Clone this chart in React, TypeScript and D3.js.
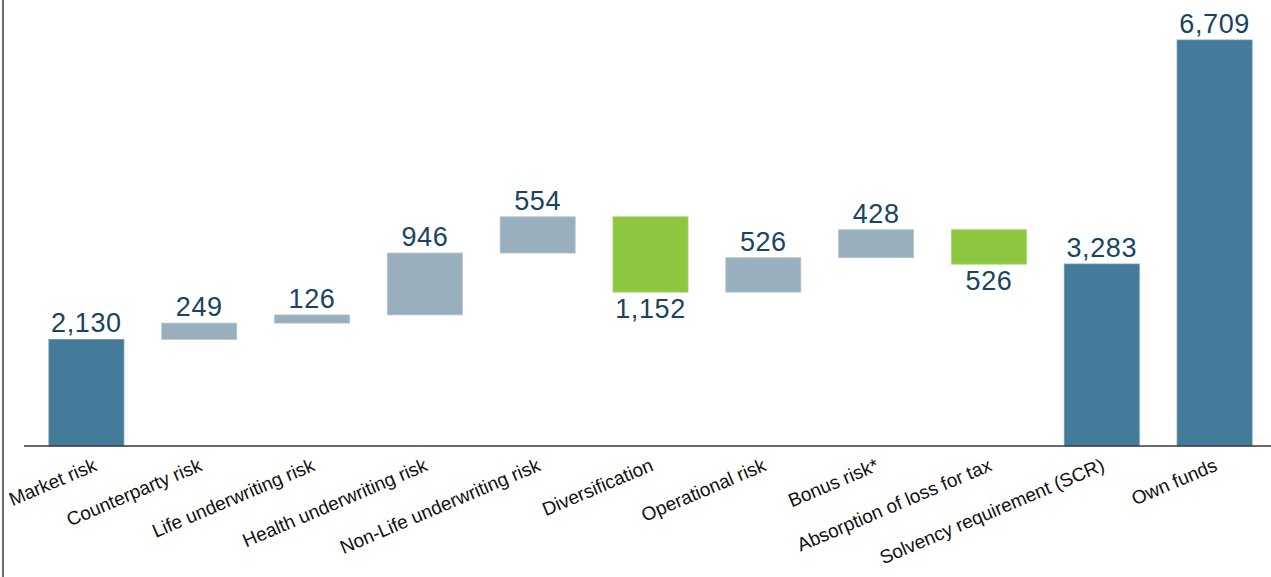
import React from "react";
import * as d3 from "d3";

const categories = [
  "Market risk",
  "Counterparty risk",
  "Life underwriting risk",
  "Health underwriting risk",
  "Non-Life underwriting risk",
  "Diversification",
  "Operational risk",
  "Bonus risk*",
  "Absorption of loss for tax",
  "Solvency requirement (SCR)",
  "Own funds",
];
// change per step; "total" bars start from zero
const values = [2130, 249, 126, 946, 554, -1152, 526, 428, -526, 3283, 6709];
const kinds = ["total", "delta", "delta", "delta", "delta", "delta", "delta", "delta", "delta", "total", "total"];

const W = 1271;
const H = 577;
const axisY = 446;
const minLabelEnd = 98; // keep first rotated label inside the left edge

export default function App() {
  const x = d3.scaleBand<string>().domain(categories).range([30, 1271]).paddingInner(0.335).paddingOuter(0.1675);
  const y = d3.scaleLinear().domain([500, 500 + 446 / 0.06539]).range([axisY, 0]);

  let cum = 0;
  const bars = categories.map((c, i) => {
    const v = values[i];
    let start: number, end: number;
    if (kinds[i] === "total") {
      start = 0;
      end = v;
      cum = v;
    } else {
      start = cum;
      end = cum + v;
      cum = end;
    }
    const lo = Math.min(start, end);
    const hi = Math.max(start, end);
    const color = kinds[i] === "total" ? "#457B9A" : v < 0 ? "#8DC63F" : "#9AAFBD";
    const edge = kinds[i] === "total" ? "#6a97b0" : v < 0 ? "#a6d46a" : "#b3c4cf";
    return { c, v, lo, hi, color, edge, neg: v < 0 };
  });

  const fmt = d3.format(",");

  return (
    <div style={{ position: "fixed", left: 0, top: 0, width: W, height: H, background: "#fff" }}>
      <svg width={W} height={H} style={{ display: "block", fontFamily: "'Liberation Sans', Arial, sans-serif" }}>
        <rect x={0} y={0} width={W} height={H} fill="#fff" />
        <line x1={3} x2={3} y1={0} y2={H} stroke="#6d6d6d" strokeWidth={2} />
        {bars.map((b) => {
          const top = y(b.hi);
          const bottom = Math.min(y(b.lo), axisY);
          return (
            <g key={b.c}>
              <rect
                x={x(b.c)!}
                y={top}
                width={x.bandwidth()}
                height={bottom - top}
                fill={b.color}
                stroke={b.edge}
                strokeWidth={0.8}
              />
              <text
                x={x(b.c)! + x.bandwidth() / 2}
                y={b.neg ? bottom + 26 : top - 7}
                textAnchor="middle"
                fontSize={27}
                letterSpacing={0.6}
                fill="#1A4462"
              >
                {fmt(Math.abs(b.v))}
              </text>
            </g>
          );
        })}
        <line x1={24} x2={W} y1={axisY} y2={axisY} stroke="#3a3a3a" strokeWidth={1.6} />
        {categories.map((c) => {
          const cx = Math.max(x(c)! + x.bandwidth() / 2 + 4, minLabelEnd);
          const cy = 470;
          return (
            <text
              key={c}
              x={cx}
              y={cy}
              transform={`rotate(-23 ${cx} ${cy})`}
              textAnchor="end"
              fontSize={19}
              fill="#111"
            >
              {c}
            </text>
          );
        })}
      </svg>
    </div>
  );
}
